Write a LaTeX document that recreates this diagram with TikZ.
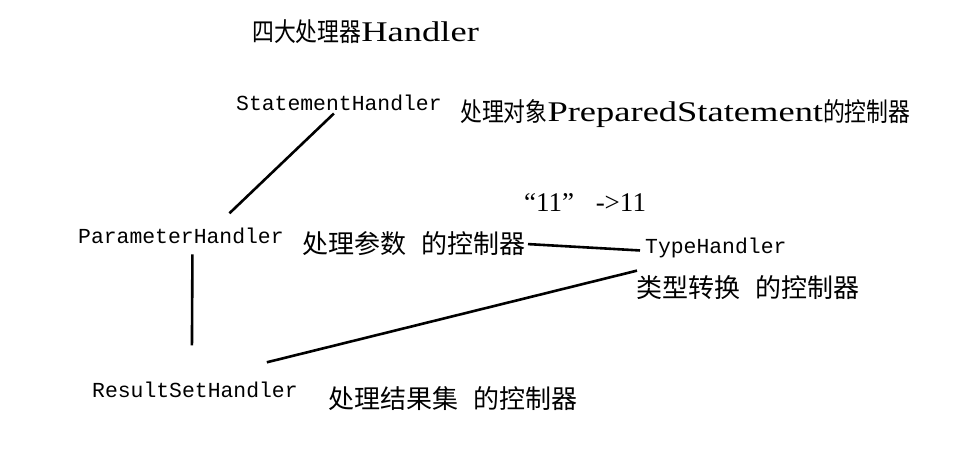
\documentclass[tikz,border=0pt]{standalone}
\usepackage{fontspec}
\setmainfont{Liberation Serif}
\newfontfamily\cjk{Noto Sans CJK SC}
\newfontfamily\cjkn[FakeStretch=0.84]{Noto Sans CJK SC}
\newfontfamily\latw[FakeStretch=1.28]{Liberation Serif}
\newfontfamily\monof{Liberation Mono}
\usetikzlibrary{calc}
\newcommand\lw[1]{{\latw\fontsize{28.5}{30}\selectfont #1}}
\tikzset{
  code/.style={font=\monof\fontsize{21.4}{24}\selectfont, inner sep=0pt, anchor=base west},
  cn/.style={font=\cjkn\fontsize{26}{30}\selectfont, inner sep=0pt, anchor=base west},
  cnbig/.style={font=\cjk\fontsize{26}{30}\selectfont, inner sep=0pt, anchor=base west},
  lat/.style={font=\rmfamily\fontsize{27}{30}\selectfont, inner sep=0pt, anchor=base west},
  link/.style={line width=2.6pt}
}
\begin{document}
\begin{tikzpicture}[x=1pt,y=-1pt]
\useasboundingbox[fill=white] (0,0) rectangle (967,462);
\node[cn] (title) at (252,42) {四大处理器\lw{Handler}};
\node[code] (stmt) at (236,111) {StatementHandler};
\node[cn] (stmtctl) at (460,122) {处理对象\lw{PreparedStatement}的控制器};
\node[lat] (conv) at (524,212) {“11”\hspace{0.8em}->11};
\node[code] (param) at (78,244) {ParameterHandler};
\node[cnbig] (parctl) at (302,254) {处理参数\hspace{0.6em}的控制器};
\node[code] (type) at (645,254) {TypeHandler};
\node[cnbig] (typectl) at (636,298) {类型转换\hspace{0.6em}的控制器};
\node[code] (result) at (92,397) {ResultSetHandler};
\node[cnbig] (resctl) at (328,408) {处理结果集\hspace{0.6em}的控制器};
\draw[link] ($(stmt.south)+(-5,2)$) -- ($(param.north)+(48.5,-15)$);
\draw[link] ($(param.south)+(11.5,10)$) -- ($(result.north)+(-3,-36)$);
\draw[link] ($(parctl.east)+(2,0)$) -- ($(type.west)+(-5,2)$);
\draw[link] ($(type.south west)+(-8,12)$) -- ($(result.north east)+(-31,-19)$);
\end{tikzpicture}
\end{document}
